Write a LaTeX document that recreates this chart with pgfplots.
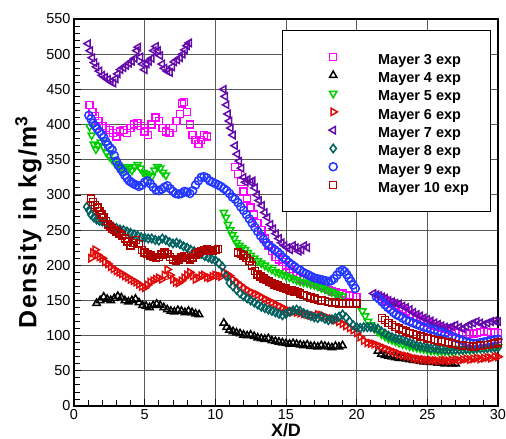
\documentclass[border=0pt]{standalone}
\usepackage{pgfplots}
\pgfplotsset{compat=1.18}
\usepackage{fontspec}
\setmainfont{Liberation Sans}
\newfontfamily\ylabfont[LetterSpace=6]{Liberation Sans}
\definecolor{c3}{RGB}{255,0,255}
\definecolor{c4}{RGB}{0,0,0}
\definecolor{c5}{RGB}{0,205,0}
\definecolor{c6}{RGB}{225,10,10}
\definecolor{c7}{RGB}{100,10,170}
\definecolor{c8}{RGB}{0,95,95}
\definecolor{c9}{RGB}{35,55,255}
\definecolor{c10}{RGB}{175,0,0}
\begin{document}
\begin{tikzpicture}
\begin{axis}[
  scale only axis, width=424bp, height=387bp,
  xmin=0, xmax=30, ymin=0, ymax=550,
  xtick={0,5,...,30}, ytick={0,50,...,550},
  minor x tick num=4, minor y tick num=4,
  tick align=inside, tick pos=left,
  major tick length=7bp, minor tick length=6bp,
  every tick/.style={black, line width=0.8bp},
  grid=major, major grid style={black!65, line width=0.9bp},
  axis line style={line width=1.3bp},
  /pgf/number format/assume math mode=true,
  ticklabel style={font=\fontsize{14.5}{16}\selectfont},
  xlabel={X/D}, ylabel={Density in kg/m\textsuperscript{3}},
  xlabel style={font=\bfseries\fontsize{18}{20}\selectfont, yshift=3bp},
  ylabel style={at={(ticklabel cs:0.475)}, font=\ylabfont\bfseries\fontsize{25}{27}\selectfont, yshift=-2bp},
  legend style={at={(axis cs:14.7,534)}, anchor=north west, draw=black, line width=0.9bp, fill=white,
    inner xsep=0pt, inner ysep=19bp, row sep=3.8bp,
    font=\bfseries\fontsize{14.5}{16}\selectfont,
    nodes={inner sep=0pt, text height=14.5bp, text depth=0bp, anchor=west},
    /tikz/every odd column/.append style={column sep=6bp}},
  legend cell align=left,
  legend image code/.code={\path[draw=none,fill=none] (0bp,-6bp) rectangle (90bp,6bp); \draw[only marks] plot coordinates {(51bp,0bp)};},
  every axis plot/.append style={only marks, line width=1.5bp},
]
\coordinate (SW) at (rel axis cs:0,0);
\coordinate (NE) at (rel axis cs:1,1);
% Mayer 3
\addplot[c3, mark=square, mark size=3.5bp] coordinates {
(1.1,428)(1.3,418)(1.5,412)(1.75,405)(2.0,398)(2.25,395)(2.5,392)(2.75,388)(3.0,383)(3.25,390)(3.5,392)(3.75,388)(4.0,395)(4.25,400)(4.5,402)(4.75,398)(5.0,390)(5.25,385)(5.5,400)(5.75,410)(6.0,405)(6.25,395)(6.5,390)(6.75,388)(7.0,395)(7.25,405)(7.5,415)(7.65,430)(7.8,432)(8.0,418)(8.2,400)(8.4,385)(8.6,378)(8.8,372)(9.0,378)(9.2,385)(9.4,383)
(11.4,340)(11.6,330)(11.8,318)(12.0,305)(12.25,295)(12.5,282)(12.75,272)(13.0,260)(13.25,250)(13.5,238)(13.75,228)(14.0,220)(14.25,212)(14.5,208)(14.75,205)(15.0,200)(15.25,195)(15.5,190)(15.75,185)(16.0,182)(16.25,180)(16.5,178)(16.75,177)(17.0,175)(17.25,172)(17.5,170)(17.75,168)(18.0,165)(18.25,163)(18.5,162)(18.75,160)(19.0,160)(19.25,158)(19.5,157)(19.75,156)(20.0,155)
(21.5,155)(21.75,152)(22.0,150)(22.25,148)(22.5,146)(22.75,143)(23.0,140)(23.25,137)(23.5,134)(23.75,131)(24.0,128)(24.25,126)(24.5,123)(24.75,120)(25.0,118)(25.25,116)(25.5,114)(25.75,112)(26.0,111)(26.25,110)(26.5,108)(26.75,106)(27.0,105)(27.25,104)(27.5,103)(27.75,102)(28.0,102)(28.25,103)(28.5,104)(28.75,105)(29.0,106)(29.25,105)(29.5,104)(29.75,105)(30.0,104)
};
\addlegendentry{\makebox[112bp][l]{Mayer 3 exp}}
% Mayer 4
\addplot[c4, mark=triangle, mark size=4.2bp] coordinates {
(1.6,146)(1.85,150)(2.1,155)(2.35,152)(2.6,150)(2.85,153)(3.1,156)(3.35,154)(3.6,150)(3.85,148)(4.1,150)(4.35,152)(4.6,147)(4.85,143)(5.1,142)(5.35,140)(5.6,143)(5.85,145)(6.1,143)(6.35,140)(6.6,137)(6.85,135)(7.1,134)(7.35,136)(7.6,135)(7.85,133)(8.1,135)(8.35,133)(8.6,131)(8.85,130)
(10.6,118)(10.8,112)(11.0,108)(11.25,106)(11.5,104)(11.75,103)(12.0,101)(12.25,100)(12.5,101)(12.75,99)(13.0,97)(13.25,96)(13.5,95)(13.75,96)(14.0,93)(14.25,92)(14.5,91)(14.75,90)(15.0,89)(15.25,88)(15.5,89)(15.75,88)(16.0,87)(16.25,86)(16.5,87)(16.75,85)(17.0,85)(17.25,84)(17.5,86)(17.75,85)(18.0,84)(18.25,83)(18.5,85)(18.75,84)(19.0,86)
(21.5,78)(21.75,74)(22.0,72)(22.25,71)(22.5,70)(22.75,69)(23.0,68)(23.25,68)(23.5,67)(23.75,66)(24.0,65)(24.25,65)(24.5,64)(24.75,63)(25.0,63)(25.25,62)(25.5,62)(25.75,61)(26.0,61)(26.25,60)(26.5,61)(26.75,60)(27.0,60)
};
\addlegendentry{\makebox[112bp][l]{Mayer 4 exp}}
% Mayer 5
\addplot[c5, mark=triangle, mark size=4.2bp, mark options={rotate=180}] coordinates {
(1.1,397)(1.25,385)(1.4,372)(1.55,365)(1.7,370)(1.9,375)(2.1,368)(2.3,360)(2.5,355)(2.7,350)(2.9,345)(3.1,342)(3.3,338)(3.5,336)(3.7,340)(3.9,338)(4.1,335)(4.3,340)(4.5,343)(4.7,338)(4.9,332)(5.1,330)(5.3,328)(5.5,326)(5.7,335)(5.9,340)(6.1,338)(6.3,332)(6.5,328)
(10.6,275)(10.75,268)(10.9,258)(11.05,250)(11.2,243)(11.35,238)(11.5,232)(11.7,228)(11.9,225)(12.1,222)(12.3,218)(12.5,214)(12.75,210)(13.0,206)(13.25,203)(13.5,200)(13.75,197)(14.0,194)(14.25,191)(14.5,189)(14.75,187)(15.0,185)(15.25,183)(15.5,181)(15.75,179)(16.0,177)(16.25,176)(16.5,175)(16.75,173)(17.0,172)(17.25,170)(17.5,168)(17.75,166)(18.0,164)(18.25,162)(18.5,160)(18.75,158)(19.0,156)
(20.4,135)(20.6,128)(20.8,120)(21.0,115)(21.25,110)(21.5,106)(21.75,102)(22.0,99)(22.25,96)(22.5,94)(22.75,92)(23.0,90)(23.25,88)(23.5,87)(23.75,85)(24.0,84)(24.25,83)(24.5,82)(24.75,81)(25.0,80)(25.25,79)(25.5,79)(25.75,78)(26.0,78)(26.25,78)(26.5,78)(26.75,78)(27.0,79)(27.25,79)(27.5,80)(27.75,80)(28.0,80)(28.25,81)(28.5,81)(28.75,82)(29.0,82)(29.25,83)(29.5,83)(29.75,84)(30.0,84)
};
\addlegendentry{\makebox[112bp][l]{Mayer 5 exp}}
% Mayer 6
\addplot[c6, mark=triangle, mark size=4.2bp, mark options={rotate=-90}] coordinates {
(1.2,210)(1.35,218)(1.5,222)(1.65,215)(1.8,212)(2.0,210)(2.2,205)(2.4,202)(2.6,198)(2.8,195)(3.0,192)(3.2,190)(3.4,188)(3.6,185)(3.8,183)(4.0,180)(4.2,178)(4.4,176)(4.6,173)(4.8,170)(5.0,168)(5.2,172)(5.4,176)(5.6,178)(5.8,180)(6.0,182)(6.2,180)(6.4,186)(6.6,194)(6.8,186)(7.0,180)(7.2,176)(7.4,175)(7.6,178)(7.8,182)(8.0,186)(8.2,190)(8.4,185)(8.6,180)(8.8,182)(9.0,185)(9.2,186)(9.4,183)(9.6,182)(9.8,184)(10.0,186)(10.2,185)(10.4,184)
(10.6,190)(10.8,188)(11.0,185)(11.25,180)(11.5,176)(11.75,172)(12.0,168)(12.25,165)(12.5,162)(12.75,160)(13.0,158)(13.25,155)(13.5,152)(13.75,150)(14.0,147)(14.25,145)(14.5,142)(14.75,140)(15.0,137)(15.25,135)(15.5,134)(15.75,133)(16.0,132)(16.25,131)(16.5,130)(16.75,129)(17.0,128)(17.25,130)(17.5,129)(17.75,127)(18.0,125)(18.25,124)(18.5,122)(18.75,120)(19.0,117)(19.25,114)(19.5,111)(19.75,108)(20.0,104)(20.25,98)(20.5,93)(20.75,90)(21.0,89)(21.25,88)
(21.5,86)(21.75,84)(22.0,82)(22.25,80)(22.5,78)(22.75,76)(23.0,74)(23.25,72)(23.5,71)(23.75,70)(24.0,68)(24.25,67)(24.5,66)(24.75,66)(25.0,65)(25.25,65)(25.5,65)(25.75,64)(26.0,65)(26.25,65)(26.5,64)(26.75,65)(27.0,66)(27.25,65)(27.5,66)(27.75,67)(28.0,66)(28.25,67)(28.5,68)(28.75,67)(29.0,68)(29.25,69)(29.5,68)(29.75,70)(30.0,70)
};
\addlegendentry{\makebox[112bp][l]{Mayer 6 exp}}
% Mayer 7
\addplot[c7, mark=triangle, mark size=4.2bp, mark options={rotate=90}] coordinates {
(1.0,515)(1.15,505)(1.3,495)(1.45,488)(1.6,482)(1.8,476)(2.0,470)(2.2,467)(2.4,464)(2.6,461)(2.8,459)(2.95,465)(3.1,472)(3.3,478)(3.5,481)(3.7,484)(3.9,487)(4.1,490)(4.3,494)(4.45,505)(4.55,510)(4.7,496)(4.85,486)(5.0,478)(5.15,486)(5.3,490)(5.5,494)(5.65,505)(5.8,511)(5.95,505)(6.1,498)(6.25,486)(6.4,480)(6.6,476)(6.8,474)(6.95,482)(7.1,489)(7.3,492)(7.5,495)(7.7,500)(7.85,506)(8.0,512)(8.15,516)
(10.6,450)(10.7,440)(10.8,428)(10.9,415)(11.0,405)(11.1,395)(11.25,385)(11.4,370)(11.55,358)(11.7,348)(11.85,338)(12.0,325)(12.15,318)(12.3,322)(12.5,318)(12.65,320)(12.8,310)(12.95,300)(13.1,292)(13.3,285)(13.5,275)(13.7,268)(13.9,258)(14.1,252)(14.3,245)(14.5,238)(14.7,232)(14.9,228)(15.1,225)(15.3,222)(15.5,228)(15.7,225)(15.9,220)(16.1,222)(16.3,228)(16.5,225)
(21.2,160)(21.4,158)(21.6,157)(21.8,155)(22.0,153)(22.25,150)(22.5,148)(22.75,146)(23.0,145)(23.25,142)(23.5,140)(23.75,137)(24.0,133)(24.25,130)(24.5,128)(24.75,125)(25.0,123)(25.25,121)(25.5,118)(25.75,116)(26.0,114)(26.25,112)(26.5,111)(26.75,113)(27.0,115)(27.25,112)(27.5,110)(27.75,113)(28.0,116)(28.25,118)(28.5,120)(28.75,118)(29.0,116)(29.25,118)(29.5,120)(29.75,121)(30.0,120)
};
\addlegendentry{\makebox[112bp][l]{Mayer 7 exp}}
% Mayer 8
\addplot[c8, mark=diamond, mark size=4.2bp] coordinates {
(0.9,283)(1.05,278)(1.2,272)(1.4,268)(1.6,265)(1.8,263)(2.0,262)(2.25,260)(2.5,257)(2.75,255)(3.0,253)(3.25,251)(3.5,250)(3.75,248)(4.0,246)(4.25,244)(4.5,242)(4.75,240)(5.0,239)(5.25,238)(5.5,238)(5.75,236)(6.0,235)(6.25,238)(6.5,236)(6.75,233)(7.0,231)(7.25,232)(7.5,230)(7.75,227)(8.0,225)(8.25,222)(8.5,220)(8.75,218)(9.0,216)(9.25,213)(9.5,211)(9.75,209)(10.0,207)(10.25,203)(10.5,198)(10.75,185)(11.0,175)(11.25,170)(11.5,165)(11.75,160)(12.0,156)(12.25,153)(12.5,150)(12.75,147)(13.0,144)(13.25,141)(13.5,139)(13.75,137)(14.0,135)(14.25,133)(14.5,131)(14.75,129)(15.0,131)(15.25,134)(15.5,136)(15.75,137)(16.0,135)(16.25,132)(16.5,130)(16.75,128)(17.0,126)(17.25,125)(17.5,127)(17.75,124)(18.0,122)(18.25,123)(18.5,125)(18.75,127)(19.0,130)(19.25,126)(19.5,120)(19.75,115)(20.0,112)(20.25,111)(20.5,112)(20.75,112)(21.0,112)(21.25,111)(21.5,110)(21.75,106)(22.0,103)(22.25,100)(22.5,98)(22.75,96)(23.0,95)(23.25,94)(23.5,92)(23.75,90)(24.0,88)(24.25,86)(24.5,85)(24.75,84)(25.0,83)(25.25,82)(25.5,82)(25.75,81)(26.0,81)(26.25,80)(26.5,80)(26.75,80)(27.0,80)(27.25,80)(27.5,80)(27.75,81)(28.0,81)(28.25,81)(28.5,82)(28.75,82)(29.0,82)(29.25,82)(29.5,83)(29.75,83)(30.0,83)
};
\addlegendentry{\makebox[112bp][l]{Mayer 8 exp}}
% Mayer 9
\addplot[c9, mark=o, mark size=4bp] coordinates {
(1.05,413)(1.2,408)(1.35,402)(1.5,398)(1.65,394)(1.8,390)(1.95,386)(2.1,382)(2.25,376)(2.4,371)(2.55,367)(2.7,364)(2.85,356)(3.0,348)(3.15,342)(3.3,337)(3.45,333)(3.6,328)(3.75,324)(3.9,320)(4.05,318)(4.2,316)(4.4,314)(4.6,312)(4.8,314)(5.0,318)(5.2,320)(5.4,316)(5.6,311)(5.8,307)(6.0,306)(6.2,308)(6.4,311)(6.6,313)(6.8,309)(7.0,305)(7.2,302)(7.4,301)(7.6,302)(7.8,305)(8.0,304)(8.2,302)(8.4,306)(8.6,314)(8.8,320)(9.0,325)(9.2,326)(9.4,324)(9.6,320)(9.8,318)(10.0,316)(10.2,314)(10.4,312)(10.6,309)(10.8,306)(11.0,302)(11.2,297)(11.4,294)(11.6,289)(11.8,283)(12.0,278)(12.2,272)(12.4,266)(12.6,260)(12.8,254)(13.0,248)(13.2,242)(13.4,237)(13.6,232)(13.8,228)(14.0,225)(14.2,222)(14.4,219)(14.6,215)(14.8,211)(15.0,208)(15.2,204)(15.4,201)(15.6,198)(15.8,195)(16.0,193)(16.2,190)(16.4,188)(16.6,186)(16.8,184)(17.0,182)(17.2,181)(17.4,180)(17.6,179)(17.8,178)(18.0,177)(18.2,178)(18.4,181)(18.6,186)(18.8,191)(19.0,193)(19.15,191)(19.3,187)(19.45,182)(19.6,177)(19.75,172)(19.9,167)
(21.4,155)(21.6,152)(21.8,148)(22.0,144)(22.2,140)(22.4,137)(22.6,133)(22.8,130)(23.0,128)(23.25,125)(23.5,122)(23.75,120)(24.0,118)(24.25,116)(24.5,114)(24.75,112)(25.0,111)(25.25,109)(25.5,108)(25.75,106)(26.0,105)(26.25,103)(26.5,101)(26.75,99)(27.0,97)(27.25,95)(27.5,93)(27.75,91)(28.0,90)(28.25,89)(28.5,89)(28.75,90)(29.0,91)(29.25,92)(29.5,93)(29.75,94)(30.0,95)
};
\addlegendentry{\makebox[112bp][l]{Mayer 9 exp}}
% Mayer 10
\addplot[c10, mark=square, mark size=3.5bp] coordinates {
(1.2,295)(1.35,290)(1.5,286)(1.65,282)(1.8,277)(1.95,272)(2.1,268)(2.25,263)(2.4,258)(2.55,255)(2.7,252)(2.85,250)(3.0,248)(3.2,245)(3.4,242)(3.6,238)(3.8,234)(4.0,228)(4.2,232)(4.4,236)(4.6,230)(4.8,222)(5.0,218)(5.2,216)(5.4,214)(5.6,212)(5.8,211)(6.0,212)(6.2,215)(6.4,218)(6.6,216)(6.8,212)(7.0,208)(7.2,206)(7.4,208)(7.6,211)(7.8,213)(8.0,210)(8.2,208)(8.4,211)(8.6,215)(8.8,218)(9.0,220)(9.2,222)(9.4,223)(9.6,221)(9.8,220)(10.0,222)(10.2,223)
(11.6,218)(11.8,216)(12.0,214)(12.2,210)(12.4,206)(12.6,200)(12.8,192)(13.0,187)(13.2,184)(13.4,181)(13.6,179)(13.8,177)(14.0,175)(14.2,173)(14.4,171)(14.6,169)(14.8,168)(15.0,167)(15.2,165)(15.4,164)(15.6,163)(15.8,162)(16.0,160)(16.25,158)(16.5,156)(16.75,154)(17.0,153)(17.25,151)(17.5,150)(17.75,149)(18.0,148)(18.25,147)(18.5,147)(18.75,146)(19.0,146)(19.25,146)(19.5,145)(19.75,146)(20.0,146)
(21.8,125)(22.0,122)(22.25,118)(22.5,115)(22.75,112)(23.0,110)(23.25,108)(23.5,106)(23.75,104)(24.0,102)(24.25,101)(24.5,99)(24.75,98)(25.0,96)(25.25,95)(25.5,94)(25.75,93)(26.0,92)(26.25,91)(26.5,90)(26.75,89)(27.0,88)(27.25,87)(27.5,86)(27.75,85)(28.0,85)(28.25,84)(28.5,85)(28.75,86)(29.0,87)(29.25,87)(29.5,88)(29.75,89)(30.0,90)
};
\addlegendentry{\makebox[112bp][l]{Mayer 10 exp}}
\end{axis}
\pgfresetboundingbox
\path[use as bounding box] ([xshift=-74bp,yshift=-33bp]SW) rectangle ([xshift=8bp,yshift=19bp]NE);
\end{tikzpicture}
\end{document}
